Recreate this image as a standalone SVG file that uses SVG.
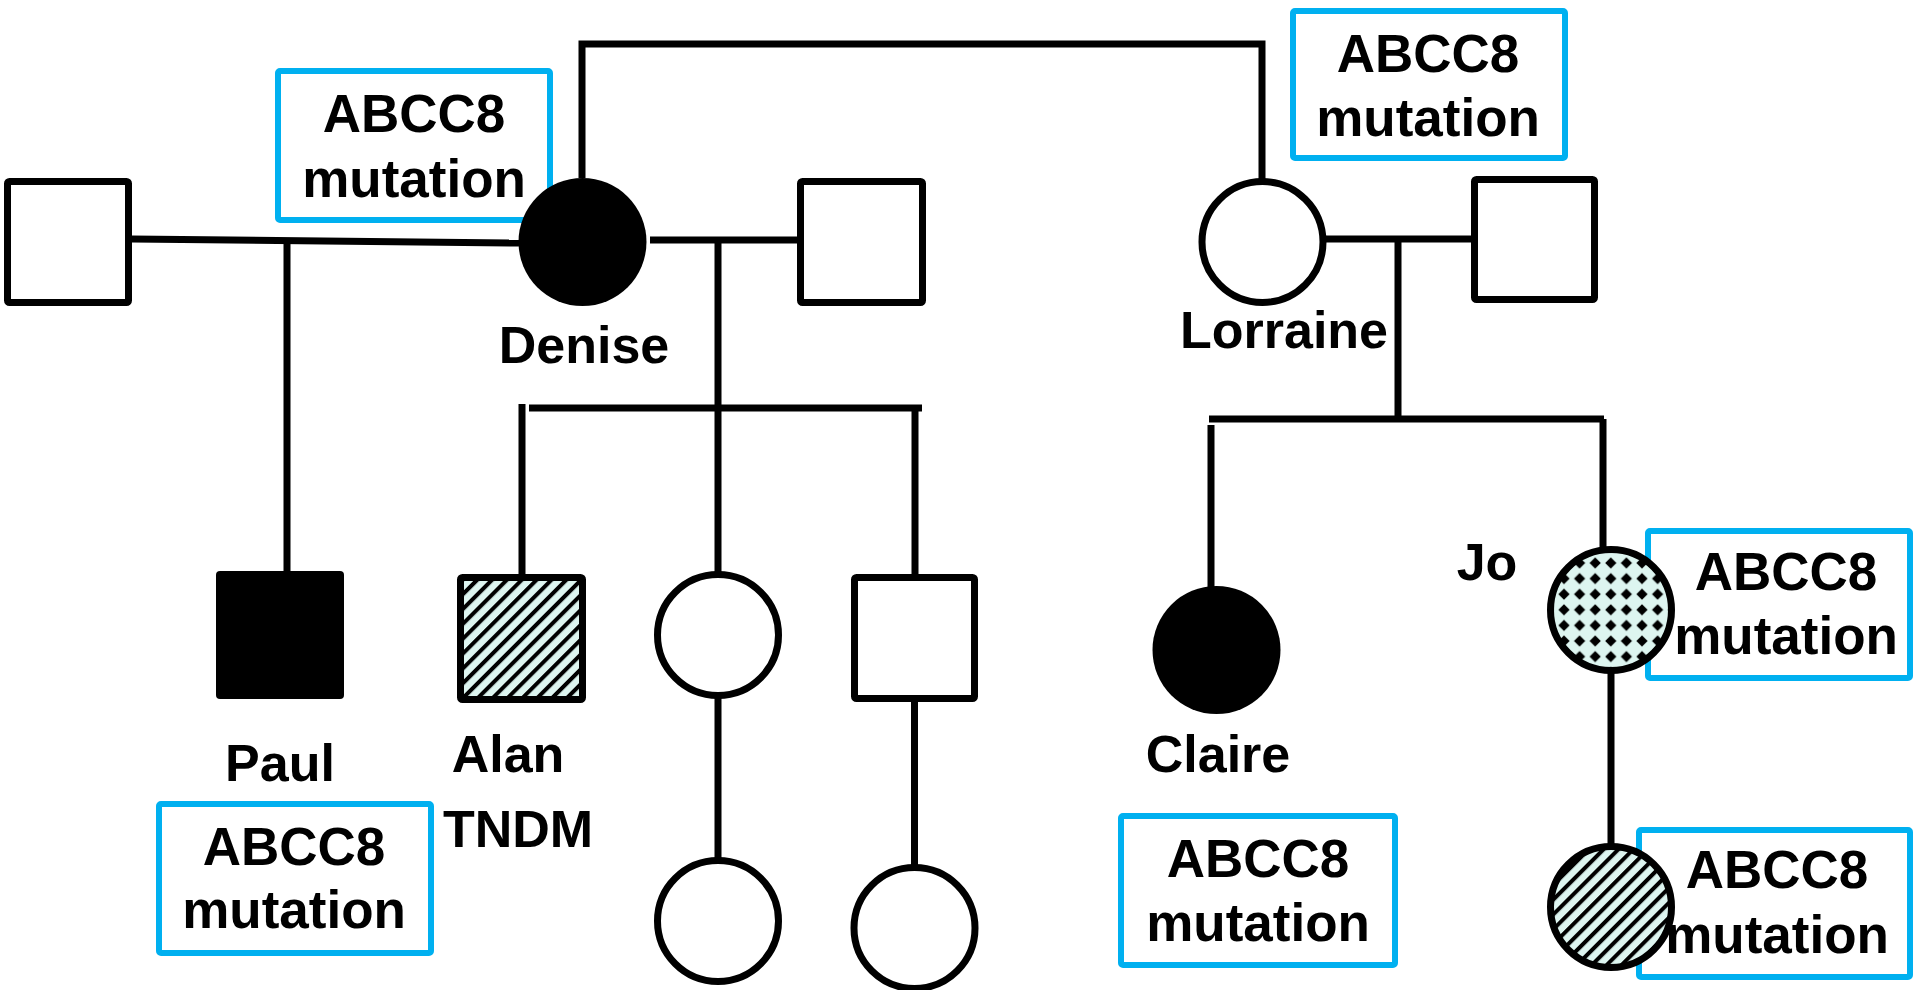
<svg xmlns="http://www.w3.org/2000/svg" width="1915" height="990" viewBox="0 0 1915 990">
  <style>
    .ln { stroke: #000; stroke-width: 7; fill: none; stroke-linecap: butt; }
    .sq { stroke: #000; stroke-width: 7; fill: #fff; }
    .ci { stroke: #000; stroke-width: 7; fill: #fff; }
    .aff { fill: #000; }
    .hatch { fill: url(#hatch); }
    .dots { fill: url(#diamonds); }
    .box { stroke: #00B0F0; stroke-width: 6; fill: #fff; }
    text { font-family: "Liberation Sans", Arial, sans-serif; font-weight: bold; fill: #000; text-anchor: middle; }
    .name { font-size: 52px; }
    .note { font-size: 53px; }
  </style>
  <defs>
    <!-- diagonal stripes -->
    <pattern id="hatch" patternUnits="userSpaceOnUse" width="10.5" height="10.5" patternTransform="rotate(45)">
      <rect width="10.5" height="10.5" fill="#DDF5F0"/>
      <rect width="4" height="10.5" fill="#000"/>
    </pattern>
    <!-- grid of diamond dots -->
    <pattern id="diamonds" patternUnits="userSpaceOnUse" width="15.6" height="15.6" patternTransform="translate(1603 602)">
      <rect width="15.6" height="15.6" fill="#DDF5F0"/>
      <path d="M7.8 2.2 L13.4 7.8 L7.8 13.4 L2.2 7.8 Z" fill="#000"/>
    </pattern>
  </defs>

  <!-- annotation boxes -->
  <g id="note-denise">
    <rect class="box" x="278" y="71" width="272" height="149" rx="2"/>
    <text class="note" x="414" y="132">ABCC8</text>
    <text class="note" x="414" y="197">mutation</text>
  </g>
  <g id="note-lorraine">
    <rect class="box" x="1293" y="11" width="272" height="147" rx="2"/>
    <text class="note" x="1428" y="72">ABCC8</text>
    <text class="note" x="1428" y="136">mutation</text>
  </g>
  <g id="note-paul">
    <rect class="box" x="159" y="804" width="272" height="149" rx="2"/>
    <text class="note" x="294" y="865">ABCC8</text>
    <text class="note" x="294" y="928">mutation</text>
  </g>
  <g id="note-claire">
    <rect class="box" x="1121" y="816" width="274" height="149" rx="2"/>
    <text class="note" x="1258" y="877">ABCC8</text>
    <text class="note" x="1258" y="941">mutation</text>
  </g>
  <g id="note-jo">
    <rect class="box" x="1648" y="531" width="262" height="147" rx="2"/>
    <text class="note" x="1786" y="590">ABCC8</text>
    <text class="note" x="1786" y="654">mutation</text>
  </g>
  <g id="note-jo-child">
    <rect class="box" x="1639" y="830" width="271" height="147" rx="2"/>
    <text class="note" x="1777" y="888">ABCC8</text>
    <text class="note" x="1777" y="953">mutation</text>
  </g>

  <!-- connectors -->
  <g id="connectors">
    <!-- sisters' sibship -->
    <path class="ln" d="M582 178 V44 H1262 V180"/>
    <!-- Denise and first partner -->
    <line class="ln" x1="132" y1="239" x2="519" y2="243"/>
    <line class="ln" x1="287" y1="241" x2="287" y2="571"/>
    <!-- Denise and second partner -->
    <line class="ln" x1="650" y1="240" x2="798" y2="240"/>
    <line class="ln" x1="718" y1="240" x2="718" y2="572"/>
    <line class="ln" x1="529" y1="408" x2="922" y2="408"/>
    <line class="ln" x1="522" y1="404" x2="522" y2="574"/>
    <line class="ln" x1="915" y1="408" x2="915" y2="574"/>
    <line class="ln" x1="718" y1="698" x2="718" y2="858"/>
    <line class="ln" x1="914.5" y1="702" x2="914.5" y2="867"/>
    <!-- Lorraine and partner -->
    <line class="ln" x1="1326" y1="239" x2="1472" y2="239"/>
    <line class="ln" x1="1398" y1="239" x2="1398" y2="420"/>
    <line class="ln" x1="1209" y1="419" x2="1604" y2="419"/>
    <line class="ln" x1="1211" y1="425" x2="1211" y2="587"/>
    <line class="ln" x1="1603" y1="419" x2="1603" y2="548"/>
    <line class="ln" x1="1611" y1="672" x2="1611" y2="845"/>
  </g>

  <!-- generation I -->
  <g id="partner-left">
    <rect class="sq" x="7.5" y="181.5" width="121" height="121" rx="2"/>
  </g>
  <g id="denise">
    <circle class="aff" cx="582.5" cy="242" r="64"/>
    <text class="name" x="584" y="363">Denise</text>
  </g>
  <g id="partner-denise">
    <rect class="sq" x="800.5" y="181.5" width="122" height="121" rx="2"/>
  </g>
  <g id="lorraine">
    <circle class="ci" cx="1262.5" cy="242" r="60.5"/>
    <text class="name" x="1284" y="348">Lorraine</text>
  </g>
  <g id="partner-lorraine">
    <rect class="sq" x="1474.5" y="179.5" width="120" height="120" rx="2"/>
  </g>

  <!-- generation II -->
  <g id="paul">
    <rect class="aff" x="216" y="571" width="128" height="128" rx="4"/>
    <text class="name" x="280" y="781">Paul</text>
  </g>
  <g id="alan">
    <rect class="sq hatch" x="460.5" y="577.5" width="122" height="122" rx="2"/>
    <text class="name" x="508" y="772">Alan</text>
    <text class="name" x="518" y="847">TNDM</text>
  </g>
  <g id="daughter-denise">
    <circle class="ci" cx="718" cy="635" r="60.5"/>
  </g>
  <g id="son-denise">
    <rect class="sq" x="854.5" y="577.5" width="120" height="121" rx="2"/>
  </g>
  <g id="claire">
    <circle class="aff" cx="1216.5" cy="650" r="64"/>
    <text class="name" x="1218" y="772">Claire</text>
  </g>
  <g id="jo">
    <circle class="ci dots" cx="1611" cy="610" r="60.5"/>
    <text class="name" x="1487" y="580">Jo</text>
  </g>

  <!-- generation III -->
  <g id="granddaughter-1">
    <circle class="ci" cx="718" cy="921" r="60.5"/>
  </g>
  <g id="granddaughter-2">
    <circle class="ci" cx="914.5" cy="928" r="60.5"/>
  </g>
  <g id="jo-child">
    <circle class="ci hatch" cx="1611" cy="907" r="60.5"/>
  </g>
</svg>
